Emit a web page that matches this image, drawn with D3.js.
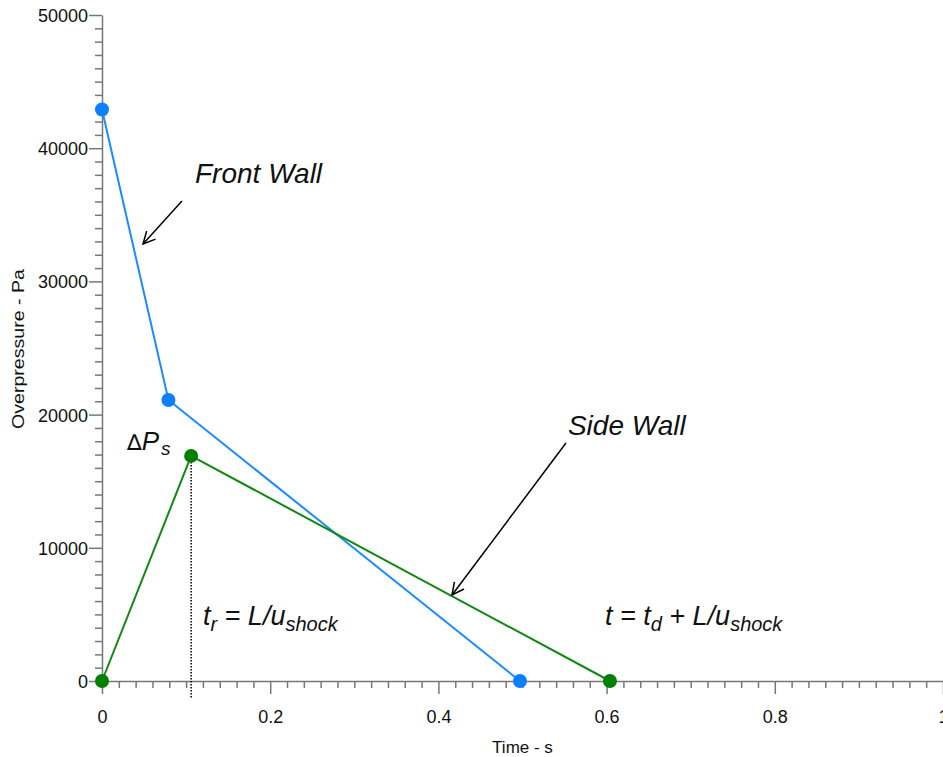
<!DOCTYPE html>
<meta charset="utf-8">
<style>
body { margin: 0; background: #fff; }
svg { display: block; font-family: "Liberation Sans", Arial, sans-serif; }
.axis path, .axis line { stroke: #777; stroke-width: 1.5; }
.axis text { font-size: 18px; fill: #111; }
.note { font-style: italic; fill: #111; }
</style>
<svg width="943" height="757"></svg>
<script src="https://d3js.org/d3.v7.min.js"></script>
<script>
// blast load curves (time in s, overpressure in Pa)
const frontTime = [0, 0.079, 0.497];
const frontPressure = [42900, 21100, 0];
const sideTime = [0, 0.106, 0.604];
const sidePressure = [0, 16900, 0];

const xTicks = [0, 0.2, 0.4, 0.6, 0.8, 1];
const yTicks = [0, 10000, 20000, 30000, 40000, 50000];

const svg = d3.select("svg");
const x = d3.scaleLinear().domain([0, 1]).range([102, 943]);
const y = d3.scaleLinear().domain([0, 50000]).range([681, 15]);

// minor ticks
const xMinor = d3.range(0, 1.0001, 0.02).filter(v => Math.abs(v * 5 - Math.round(v * 5)) > 1e-6);
const yMinor = d3.range(0, 50001, 1000).filter(v => v % 10000 !== 0);

svg.append("g").attr("class", "axis")
  .attr("transform", "translate(0," + y(0) + ")")
  .call(d3.axisBottom(x).tickValues(xMinor).tickSize(7).tickFormat(""))
  .call(g => g.select(".domain").remove());
svg.append("g").attr("class", "axis")
  .attr("transform", "translate(0," + y(0) + ")")
  .call(d3.axisBottom(x).tickValues(xTicks).tickSizeInner(13).tickSizeOuter(0).tickPadding(16).tickFormat(d3.format("~g")));

svg.append("g").attr("class", "axis")
  .attr("transform", "translate(" + x(0) + ",0)")
  .call(d3.axisLeft(y).tickValues(yMinor).tickSize(7).tickFormat(""))
  .call(g => g.select(".domain").remove());
svg.append("g").attr("class", "axis")
  .attr("transform", "translate(" + x(0) + ",0)")
  .call(d3.axisLeft(y).tickValues(yTicks).tickSizeInner(13).tickSizeOuter(0).tickPadding(1).tickFormat(d3.format("d")))
  .call(g => g.selectAll("text").attr("dy", "0.36em"));

svg.append("text")
  .attr("x", (x(0) + x(1)) / 2).attr("y", 753)
  .attr("text-anchor", "middle").attr("font-size", 17).attr("fill", "#111")
  .text("Time - s");
svg.append("text")
  .attr("transform", "translate(24,349) rotate(-90)")
  .attr("text-anchor", "middle").attr("font-size", 17).attr("fill", "#111")
  .attr("textLength", 160).attr("lengthAdjust", "spacingAndGlyphs")
  .text("Overpressure - Pa");

// dotted rise-time marker
svg.append("line")
  .attr("x1", x(sideTime[1])).attr("x2", x(sideTime[1]))
  .attr("y1", y(sidePressure[1])).attr("y2", y(-1350))
  .attr("stroke", "#000").attr("stroke-width", 1.5).attr("stroke-dasharray", "1.5,1.5");

const line = d3.line().x(d => x(d[0])).y(d => y(d[1]));
const series = [
  { t: frontTime, p: frontPressure, line: "#1a8cff", dot: "#0a80ff" },
  { t: sideTime, p: sidePressure, line: "#118811", dot: "#008000" }
];
series.forEach(s => {
  const pts = s.t.map((t, i) => [t, s.p[i]]);
  svg.append("path").datum(pts).attr("d", line)
    .attr("fill", "none").attr("stroke", s.line).attr("stroke-width", 2);
  svg.selectAll(null).data(pts).enter().append("circle")
    .attr("cx", d => x(d[0])).attr("cy", d => y(d[1])).attr("r", 7)
    .attr("fill", s.dot);
});

// arrows
svg.append("defs").append("marker")
  .attr("id", "head").attr("viewBox", "0 0 14 14").attr("refX", 13).attr("refY", 7)
  .attr("markerWidth", 14).attr("markerHeight", 14).attr("markerUnits", "userSpaceOnUse")
  .attr("orient", "auto")
  .append("path").attr("d", "M1,1 L13,7 L1,13").attr("fill", "none")
  .attr("stroke", "#000").attr("stroke-width", 1.5);

const arrows = [
  [[0.0951, 36036], [0.0488, 32808]],
  [[0.5517, 17868], [0.4162, 6456]]
];
arrows.forEach(a => {
  svg.append("line")
    .attr("x1", x(a[0][0])).attr("y1", y(a[0][1]))
    .attr("x2", x(a[1][0])).attr("y2", y(a[1][1]))
    .attr("stroke", "#000").attr("stroke-width", 1.5)
    .attr("marker-end", "url(#head)");
});

svg.append("text").attr("class", "note").attr("font-size", 28)
  .attr("x", x(0.1106)).attr("y", y(37387)).text("Front Wall");
svg.append("text").attr("class", "note").attr("font-size", 28)
  .attr("x", x(0.554)).attr("y", y(18468)).text("Side Wall");

const dp = svg.append("text").attr("class", "note").attr("font-size", 26)
  .attr("x", x(0.0297)).attr("y", y(17342));
dp.append("tspan").attr("font-family", "DejaVu Sans").attr("font-weight", 200).attr("font-size", 22).text("\u2206");
dp.append("tspan").text("P");
dp.append("tspan").attr("font-size", 19).attr("dx", 2).attr("dy", 5).text("s");

const tr = svg.append("text").attr("class", "note").attr("font-size", 27)
  .attr("x", x(0.120)).attr("y", y(4204));
tr.append("tspan").text("t");
tr.append("tspan").attr("font-size", 20).attr("dy", 6).text("r");
tr.append("tspan").attr("dy", -6).text(" = L/u");
tr.append("tspan").attr("font-size", 20).attr("dy", 6).text("shock");

const td = svg.append("text").attr("class", "note").attr("font-size", 27)
  .attr("x", x(0.598)).attr("y", y(4204));
td.append("tspan").text("t = t");
td.append("tspan").attr("font-size", 20).attr("dy", 6).text("d");
td.append("tspan").attr("dy", -6).text(" + L/u");
td.append("tspan").attr("font-size", 20).attr("dy", 6).text("shock");
</script>
